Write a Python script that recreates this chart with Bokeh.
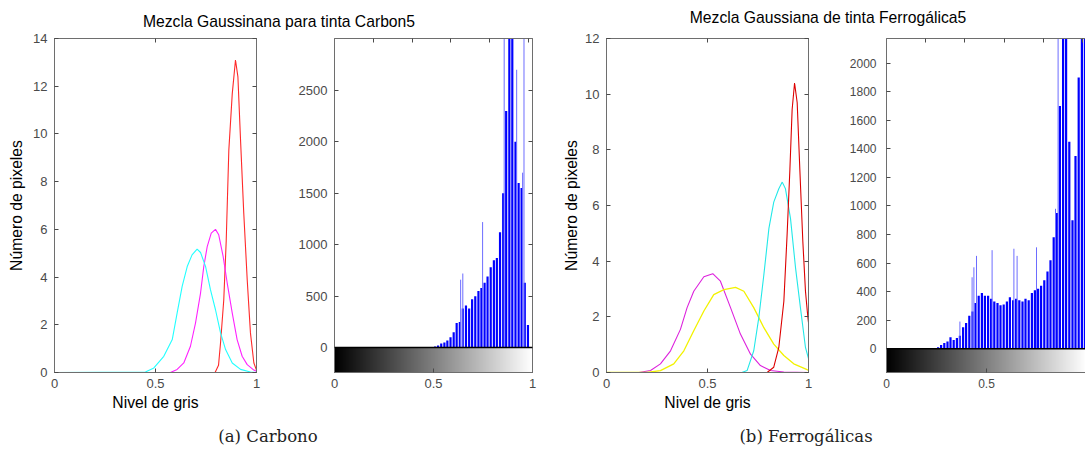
import numpy as np
from bokeh.plotting import figure
from bokeh.layouts import column, row
from bokeh.models import Range1d, LinearAxis, FixedTicker, Span, LinearColorMapper, Div
from bokeh.embed import file_html
from bokeh.resources import INLINE

# ---------------- DATA ----------------
titles = ["Mezcla Gaussinana para tinta Carbon5", "Mezcla Gaussiana de tinta Ferrogálica5"]
captions = ["(a) Carbono", "(b) Ferrogálicas"]
xlabel = "Nivel de gris"
ylabel = "Número de pixeles"

# Carbon: gaussian mixture components
carbon_cyan_x = [0.0, 0.45, 0.492, 0.541, 0.583, 0.607, 0.632, 0.657, 0.681, 0.706, 0.723, 0.748, 0.772, 0.797, 0.822, 0.847, 0.88, 0.921, 0.97, 1.0]
carbon_cyan_y = [0.0, 0.02, 0.19, 0.68, 1.38, 2.49, 3.61, 4.44, 4.93, 5.17, 5.03, 4.44, 3.47, 2.63, 1.66, 0.96, 0.40, 0.13, 0.02, 0.0]
carbon_mag_x = [0.0, 0.574, 0.607, 0.64, 0.673, 0.698, 0.723, 0.739, 0.756, 0.776, 0.797, 0.813, 0.835, 0.855, 0.88, 0.904, 0.929, 0.954, 0.987, 1.0]
carbon_mag_y = [0.0, 0.0, 0.13, 0.40, 1.10, 2.07, 3.33, 4.44, 5.28, 5.84, 6.0, 5.77, 4.86, 3.75, 2.49, 1.38, 0.68, 0.33, 0.10, 0.05]
carbon_red_x = [0.0, 0.795, 0.812, 0.822, 0.838, 0.85, 0.863, 0.88, 0.896, 0.908, 0.921, 0.937, 0.954, 0.97, 0.987, 1.0]
carbon_red_y = [0.0, 0.0, 0.3, 1.25, 3.05, 5.5, 9.32, 11.69, 13.1, 12.39, 9.74, 6.67, 3.89, 1.66, 0.40, 0.1]

# Carbon: histogram (gray level, count)
carbon_hist_x = [0.508, 0.523, 0.539, 0.555, 0.570, 0.586, 0.602, 0.617, 0.633, 0.648, 0.664, 0.680, 0.695, 0.711, 0.727, 0.742,
                 0.758, 0.773, 0.789, 0.805, 0.820, 0.836, 0.852, 0.867, 0.883, 0.898, 0.914, 0.930, 0.945, 0.961, 0.977]
carbon_hist_y = [10, 20, 40, 50, 70, 100, 150, 240, 250, 380, 410, 380, 470, 500, 550, 580,
                 630, 690, 780, 850, 870, 1120, 1500, 2300, 3100, 3100, 2000, 1600, 1550, 630, 220]
carbon_spike_x = [0.637, 0.648, 0.748, 0.857, 0.920, 0.950, 0.957]
carbon_spike_y = [660, 720, 1220, 3100, 2700, 1700, 3100]

# Ferrogálica: gaussian mixture components
ferro_mag_x = [0.0, 0.16, 0.218, 0.267, 0.317, 0.366, 0.399, 0.432, 0.482, 0.526, 0.564, 0.614, 0.663, 0.713, 0.762, 0.812, 0.878, 1.0]
ferro_mag_y = [0.0, 0.0, 0.07, 0.31, 0.78, 1.55, 2.33, 2.92, 3.44, 3.55, 3.28, 2.33, 1.38, 0.66, 0.25, 0.07, 0.02, 0.0]
ferro_yel_x = [0.0, 0.2, 0.267, 0.333, 0.383, 0.432, 0.482, 0.531, 0.581, 0.639, 0.68, 0.729, 0.779, 0.828, 0.878, 0.927, 0.993, 1.0]
ferro_yel_y = [0.0, 0.0, 0.07, 0.31, 0.78, 1.50, 2.21, 2.80, 2.98, 3.06, 2.92, 2.33, 1.61, 1.02, 0.61, 0.31, 0.10, 0.08]
ferro_cyan_x = [0.0, 0.67, 0.696, 0.729, 0.754, 0.779, 0.804, 0.828, 0.853, 0.87, 0.886, 0.911, 0.936, 0.96, 0.985, 1.0]
ferro_cyan_y = [0.0, 0.0, 0.07, 0.78, 1.97, 3.51, 5.18, 6.12, 6.6, 6.84, 6.6, 5.53, 3.75, 2.33, 0.90, 0.5]
ferro_red_x = [0.0, 0.795, 0.828, 0.853, 0.878, 0.894, 0.908, 0.919, 0.931, 0.944, 0.957, 0.972, 0.985, 0.997, 1.0]
ferro_red_y = [0.0, 0.0, 0.19, 0.9, 2.56, 4.94, 7.31, 9.45, 10.4, 9.69, 7.31, 4.7, 2.92, 1.97, 1.8]

# Ferrogálica: histogram (gray level, count)
ferro_hist_x = [0.258, 0.273, 0.289, 0.305, 0.320, 0.336, 0.352, 0.367, 0.383, 0.398, 0.414, 0.430, 0.445, 0.461, 0.477, 0.492,
                0.508, 0.523, 0.539, 0.555, 0.570, 0.586, 0.602, 0.617, 0.633, 0.648, 0.664, 0.680, 0.695, 0.711, 0.727, 0.742,
                0.758, 0.773, 0.789, 0.805, 0.820, 0.836, 0.852, 0.867, 0.883, 0.898, 0.914, 0.930, 0.945, 0.961, 0.977, 0.992]
ferro_hist_y = [10, 25, 40, 50, 80, 60, 75, 90, 150, 180, 230, 260, 320, 370, 390, 370,
                370, 350, 330, 320, 305, 310, 330, 360, 340, 350, 340, 330, 350, 340, 390, 410,
                420, 440, 480, 540, 620, 780, 950, 1700, 2250, 2250, 1450, 900, 1350, 1900, 2250, 2250]
ferro_spike_x = [0.367, 0.428, 0.437, 0.450, 0.528, 0.637, 0.653, 0.750, 0.845, 0.858]
ferro_spike_y = [190, 500, 570, 650, 690, 700, 650, 710, 980, 2250]

gauss_xticks = [0, 0.5, 1]
carbon_gauss_yticks = [0, 2, 4, 6, 8, 10, 12, 14]
ferro_gauss_yticks = [0, 2, 4, 6, 8, 10, 12]
carbon_hist_yticks = [0, 500, 1000, 1500, 2000, 2500]
ferro_hist_yticks = [0, 200, 400, 600, 800, 1000, 1200, 1400, 1600, 1800, 2000]
hist_top_ticks = [0.196, 0.392, 0.588, 0.784, 0.980]

# ---------------- STYLE ----------------
FONT = "Liberation Sans"
AX_COL = "#6e6e6e"
TICK_COL = "#4a4a4a"
LABEL_FS = "15.7px"
x_overrides = {0: "0", 0.5: "0.5", 1: "1"}


def base_fig(w, h, bl, br, bt, bb, xr, yr):
    p = figure(width=w, height=h, x_range=Range1d(*xr), y_range=Range1d(*yr),
               min_border_left=bl, min_border_right=br, min_border_top=bt, min_border_bottom=bb,
               toolbar_location=None, output_backend="svg", title=None,
               x_axis_location=None, y_axis_location=None)
    p.outline_line_color = AX_COL
    p.outline_line_width = 1
    p.background_fill_color = "white"
    p.border_fill_color = "white"
    p.xgrid.visible = False
    p.ygrid.visible = False
    return p


def style_axis(ax, fs="13px", labels=True):
    ax.axis_line_color = AX_COL
    ax.major_tick_line_color = TICK_COL
    ax.major_tick_in = 4
    ax.major_tick_out = 0
    ax.minor_tick_line_color = None
    ax.major_label_text_font = FONT
    if labels:
        ax.major_label_text_color = TICK_COL
        ax.major_label_text_font_size = fs
        ax.major_label_standoff = 6
    else:
        # tick marks only (MATLAB box ticks); labels not drawn
        ax.major_label_text_color = None
        ax.major_label_text_font_size = "1px"
        ax.major_label_standoff = 0
    ax.axis_label_text_font = FONT
    ax.axis_label_text_font_size = LABEL_FS
    ax.axis_label_text_font_style = "normal"
    ax.axis_label_text_color = "black"
    return ax


def add_axes(p, xticks, yticks, xlab=None, ylab=None, top_ticks=None, right=True, fs="13px",
             ystand=6, ylab_stand=6):
    bx = style_axis(LinearAxis(ticker=FixedTicker(ticks=xticks), major_label_overrides=x_overrides), fs)
    if xlab:
        bx.axis_label = xlab
        bx.axis_label_standoff = 3
    p.add_layout(bx, "below")
    ly = style_axis(LinearAxis(ticker=FixedTicker(ticks=yticks)), fs)
    ly.major_label_standoff = ystand
    if ylab:
        ly.axis_label = ylab
        ly.axis_label_standoff = ylab_stand
    p.add_layout(ly, "left")
    tx = style_axis(LinearAxis(ticker=FixedTicker(ticks=top_ticks if top_ticks else xticks)), fs, labels=False)
    p.add_layout(tx, "above")
    if right:
        ry = style_axis(LinearAxis(ticker=FixedTicker(ticks=yticks)), fs, labels=False)
        p.add_layout(ry, "right")


TITLE_H = 32
CAP_H = 31
FIG_H = 451 - TITLE_H - CAP_H   # 388

# ---------------- PANEL 1: Carbon gaussians ----------------
p1 = base_fig(295, FIG_H, 54, 39, 6, 47, (0, 1), (0, 14))
add_axes(p1, gauss_xticks, carbon_gauss_yticks, xlab=xlabel, ylab=ylabel, ystand=7, ylab_stand=5)
p1.line(carbon_red_x, carbon_red_y, line_color="#ff2a2a", line_width=1.1)
p1.line(carbon_mag_x, carbon_mag_y, line_color="#ff22ff", line_width=1.1)
p1.line(carbon_cyan_x, carbon_cyan_y, line_color="#22ffff", line_width=1.1)

# ---------------- PANEL 2: Carbon histogram ----------------
grey_pal = ["#%02x%02x%02x" % (i, i, i) for i in range(256)]
gmap = LinearColorMapper(palette=grey_pal, low=0, high=1)
gradient = np.linspace(0, 1, 256).reshape(1, 256)

c_lo, c_hi = -242, 3004
p2 = base_fig(261, FIG_H, 37, 24, 6, 47, (0, 1), (c_lo, c_hi))
add_axes(p2, gauss_xticks, carbon_hist_yticks, top_ticks=hist_top_ticks, ystand=7)
p2.image(image=[gradient], x=0, y=c_lo, dw=1, dh=-c_lo, color_mapper=gmap)
p2.vbar(x=carbon_hist_x, top=carbon_hist_y, bottom=0, width=0.011, fill_color="#0000ff", line_color=None)
p2.segment(x0=carbon_spike_x, y0=[0] * len(carbon_spike_x), x1=carbon_spike_x, y1=carbon_spike_y,
           line_color="#6d6dff", line_width=1)
p2.add_layout(Span(location=0, dimension="width", line_color="black", line_width=1.5))

# ---------------- PANEL 3: Ferro gaussians ----------------
p3 = base_fig(289, FIG_H, 50, 37, 3, 48, (0, 1), (0, 12))
add_axes(p3, gauss_xticks, ferro_gauss_yticks, xlab=xlabel, ylab=ylabel, ystand=7, ylab_stand=2)
p3.line(ferro_mag_x, ferro_mag_y, line_color="#dd22dd", line_width=1.1)
p3.line(ferro_yel_x, ferro_yel_y, line_color="#f2f200", line_width=1.3)
p3.line(ferro_cyan_x, ferro_cyan_y, line_color="#22e8e8", line_width=1.1)
p3.line(ferro_red_x, ferro_red_y, line_color="#dd0000", line_width=1.1)

# ---------------- PANEL 4: Ferro histogram ----------------
f_lo, f_hi = -167, 2173
p4 = base_fig(240, FIG_H, 41, 0, 3, 48, (0, 0.995), (f_lo, f_hi))
add_axes(p4, gauss_xticks, ferro_hist_yticks, top_ticks=hist_top_ticks, right=False, fs="12px", ystand=10)
p4.image(image=[gradient], x=0, y=f_lo, dw=1, dh=-f_lo, color_mapper=gmap)
p4.vbar(x=ferro_hist_x, top=ferro_hist_y, bottom=0, width=0.011, fill_color="#0000ff", line_color=None)
p4.segment(x0=ferro_spike_x, y0=[0] * len(ferro_spike_x), x1=ferro_spike_x, y1=ferro_spike_y,
           line_color="#6d6dff", line_width=1)
p4.add_layout(Span(location=0, dimension="width", line_color="black", line_width=1.5))

# ---------------- Title strip and caption strip (HTML text) ----------------
def strip_div(texts, centers, tops, h, font, size, lh, color):
    spans = "".join(
        f'<span style="position:absolute;left:{cx}px;top:{tp}px;transform:translateX(-50%);'
        f'white-space:nowrap">{t}</span>'
        for t, cx, tp in zip(texts, centers, tops))
    html = (f'<div style="position:relative;width:1085px;height:{h}px;overflow:visible;'
            f'font-family:\'{font}\';font-size:{size};line-height:{lh}px;color:{color}">{spans}</div>')
    return Div(text=html, width=1085, height=h, margin=0)

pt = strip_div(titles, [279, 828], [13, 9], TITLE_H, FONT, "15.7px", 18, "black")
pc = strip_div(captions, [268, 806], [7, 7], CAP_H, "DejaVu Serif", "16.5px", 20, "#222222")

layout = column(pt, row(p1, p2, p3, p4), pc)

open("out.html", "w").write(file_html(layout, INLINE))
